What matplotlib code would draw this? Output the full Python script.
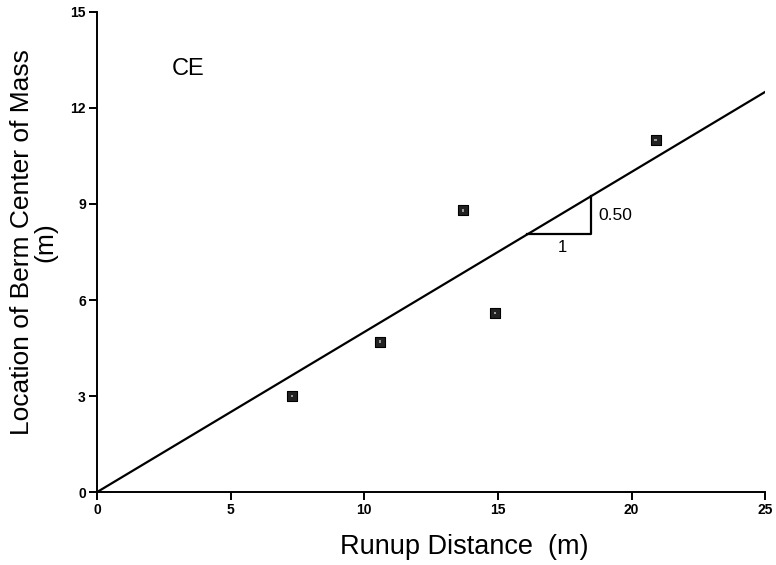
import matplotlib
matplotlib.use("Agg")
import matplotlib.pyplot as plt
import numpy as np

# measured berm positions
runup = [7.3, 10.6, 13.7, 14.9, 20.9]
bermLoc = [3.0, 4.7, 8.8, 5.6, 11.0]

slope = 0.50
fitX = [0, 25]
xTicks = [0, 5, 10, 15, 20, 25]
yTicks = [0, 3, 6, 9, 12, 15]

plt.rcParams['font.family'] = ['Liberation Sans', 'DejaVu Sans']

fig = plt.figure(figsize=(7.76, 5.65), dpi=100)
ax = fig.add_axes([0.125, 0.129, 0.861, 0.850])

ax.plot(fitX, [slope * x for x in fitX], color='black', lw=1.6)

# slope triangle
tx0, tx1 = 16.1, 18.5
ax.plot([tx0, tx1, tx1], [slope * tx0, slope * tx0, slope * tx1], color='black', lw=1.6)
ax.text(17.4, 7.65, "1", fontsize=12, ha='center', va='center')
ax.text(18.75, 8.65, "0.50", fontsize=12.5, ha='left', va='center')

ax.scatter(runup, bermLoc, marker='s', s=52, facecolor='#222222', edgecolor='black', lw=0.8, zorder=3)
ax.scatter(runup, bermLoc, marker='s', s=3, facecolor='#999999', edgecolor='none', zorder=4)

ax.text(2.8, 13.2, "CE", fontsize=17, ha='left', va='center')

ax.set_xlim(0, 25)
ax.set_ylim(0, 15)
ax.set_xticks(xTicks)
ax.set_yticks(yTicks)
ax.spines['top'].set_visible(False)
ax.spines['right'].set_visible(False)
for s in ['left', 'bottom']:
    ax.spines[s].set_linewidth(1.4)
ax.tick_params(direction='out', length=6, width=1.4, labelsize=10, pad=2)
for lbl in ax.get_xticklabels() + ax.get_yticklabels():
    lbl.set_fontweight('bold')

ax.set_xlabel("Runup Distance  (m)", fontsize=19.5)
ax.xaxis.set_label_coords(0.55, -0.088)
ax.set_ylabel("Location of Berm Center of Mass\n(m)", fontsize=19, linespacing=0.92)
ax.yaxis.set_label_coords(-0.060, 0.52)

fig.savefig("out.png", dpi=100)
